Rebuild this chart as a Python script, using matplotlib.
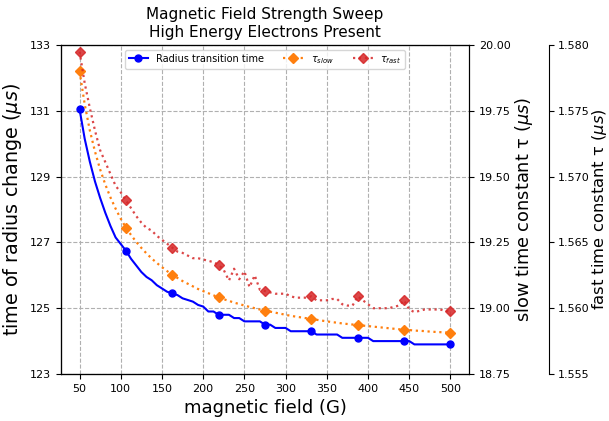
import numpy as np
import matplotlib
matplotlib.use('Agg')
import matplotlib.pyplot as plt

# magnetic field sweep, 6.25 G steps, markers every 9th point
field = np.linspace(50, 500, 73)

# radius transition time (us)
radius_time = [131.05, 130.15, 129.45, 128.85, 128.35, 127.9, 127.5, 127.15,
               126.95, 126.75, 126.5, 126.3, 126.1, 125.95, 125.85, 125.7,
               125.6, 125.5, 125.45, 125.4, 125.3, 125.25, 125.2, 125.1,
               125.05, 124.9, 124.9, 124.8, 124.8, 124.8, 124.7, 124.7,
               124.6, 124.6, 124.6, 124.6, 124.5, 124.5, 124.4, 124.4,
               124.4, 124.3, 124.3, 124.3, 124.3, 124.3, 124.2, 124.2,
               124.2, 124.2, 124.2, 124.1, 124.1, 124.1, 124.1, 124.1,
               124.1, 124.0, 124.0, 124.0, 124.0, 124.0, 124.0, 124.0,
               124.0, 123.9, 123.9, 123.9, 123.9, 123.9, 123.9, 123.9,
               123.9]

# slow time constant (us)
tau_slow = [19.900, 19.775, 19.675, 19.595, 19.527, 19.470, 19.421, 19.378,
            19.340, 19.306, 19.278, 19.252, 19.229, 19.208, 19.189, 19.172,
            19.156, 19.141, 19.127, 19.115, 19.103, 19.093, 19.083, 19.073,
            19.065, 19.057, 19.049, 19.041, 19.034, 19.028, 19.021, 19.016,
            19.010, 19.005, 19.000, 18.995, 18.991, 18.987, 18.983, 18.979,
            18.975, 18.971, 18.968, 18.965, 18.962, 18.959, 18.956, 18.953,
            18.950, 18.947, 18.945, 18.942, 18.940, 18.938, 18.936, 18.934,
            18.932, 18.930, 18.928, 18.926, 18.924, 18.922, 18.920, 18.918,
            18.917, 18.915, 18.914, 18.913, 18.911, 18.910, 18.909, 18.908,
            18.907]

# fast time constant (us)
tau_fast = [1.5795, 1.5771, 1.5752, 1.5735, 1.5720, 1.5711, 1.5702, 1.5693,
            1.5688, 1.5682, 1.5676, 1.5670, 1.5665, 1.5661, 1.5659, 1.5655,
            1.5652, 1.5649, 1.5646, 1.5643, 1.5642, 1.5640, 1.5638, 1.5638,
            1.5637, 1.5636, 1.5635, 1.5633, 1.5629, 1.5621, 1.5630, 1.5622,
            1.5628, 1.5616, 1.5625, 1.5614, 1.5613, 1.5612, 1.5611, 1.5611,
            1.5611, 1.5609, 1.5608, 1.5608, 1.5608, 1.5609, 1.5606, 1.5606,
            1.5606, 1.5607, 1.5607, 1.5603, 1.5602, 1.5602, 1.5609, 1.5606,
            1.5603, 1.5600, 1.5600, 1.5600, 1.5600, 1.5601, 1.5602, 1.5606,
            1.5599, 1.5597, 1.5598, 1.5599, 1.5599, 1.5599, 1.5599, 1.5598,
            1.5598]

slow_ticks = [18.75, 19.0, 19.25, 19.5, 19.75, 20.0]
fast_ticks = [1.555, 1.560, 1.565, 1.570, 1.575, 1.580]

fig = plt.figure(figsize=(6.09, 4.21), dpi=100)
ax = fig.add_axes([61/609, 1 - 374/421, 408/609, 329/421])
ax2 = ax.twinx()
ax3 = ax.twinx()
ax3.spines['right'].set_position(('axes', 1.195))

l1, = ax.plot(field, radius_time, '-', color='b', lw=1.5, marker='o', ms=5,
              markevery=9, label='Radius transition time')
l2, = ax2.plot(field, tau_slow, ':', color='tab:orange', lw=1.6, marker='D', ms=5,
               markevery=9, label=r'$\tau_{slow}$')
l3, = ax3.plot(field, tau_fast, ':', color='tab:red', lw=1.6, marker='D', ms=5,
               markevery=9, alpha=0.85, label=r'$\tau_{fast}$')

ax.set_xlim(27.5, 522.5)
ax.set_xticks(np.arange(50, 501, 50))
ax.set_ylim(123, 133)
ax.set_yticks([123, 125, 127, 129, 131, 133])
ax2.set_ylim(18.75, 20.0)
ax2.set_yticks(slow_ticks)
ax2.set_yticklabels(['%.2f' % v for v in slow_ticks])
ax3.set_ylim(1.555, 1.580)
ax3.set_yticks(fast_ticks)
ax3.set_yticklabels(['%.3f' % v for v in fast_ticks])

for a in (ax, ax2, ax3):
    a.tick_params(labelsize=8)

ax.grid(True, linestyle='--', color='#b0b0b0', lw=0.8)

ax.set_xlabel('magnetic field (G)', fontsize=13)
ax.set_ylabel(r'time of radius change ($\mu s$)', fontsize=13.8)
ax2.set_ylabel(r'slow time constant τ ($\mu s$)', fontsize=12.8, labelpad=2)
ax3.set_ylabel(r'fast time constant τ ($\mu s$)', fontsize=11.8, labelpad=0)
ax.set_title('Magnetic Field Strength Sweep\nHigh Energy Electrons Present', fontsize=11)

ax3.legend(handles=[l1, l2, l3], loc='upper center', ncol=3, fontsize=7)

fig.savefig('out.png', dpi=100)
